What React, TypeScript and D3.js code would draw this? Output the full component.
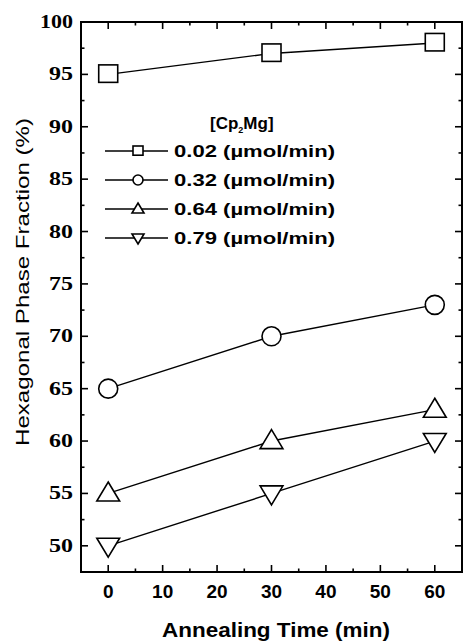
import React from 'react';
import * as d3 from 'd3';

// annealing time (min)
const times = [0, 30, 60];
// hexagonal phase fraction (%) per Cp2Mg flow
const s002 = [95, 97, 98];
const s032 = [65, 70, 73];
const s064 = [55, 60, 63];
const s079 = [50, 55, 60];
const seriesLabels = ['0.02', '0.32', '0.64', '0.79'];
const markers = ['square', 'circle', 'up', 'down'];
const xTicks = [0, 10, 20, 30, 40, 50, 60];
const yTicks = [50, 55, 60, 65, 70, 75, 80, 85, 90, 95, 100];

const W = 464;
const H = 643;
const left = 81, right = 462, top = 22, bottom = 572;
const sans = 'Liberation Sans, Arial, sans-serif';
const serif = 'Liberation Serif, Times New Roman, serif';

function Marker({ kind, x, y, s }: { kind: string; x: number; y: number; s: number }) {
  const sw = 1.6;
  if (kind === 'square')
    return <rect x={x - s / 2} y={y - s / 2} width={s} height={s * 0.92} fill="white" stroke="black" strokeWidth={sw} />;
  if (kind === 'circle')
    return <circle cx={x} cy={y} r={s / 2} fill="white" stroke="black" strokeWidth={sw} />;
  const h = s * 1.0;
  const w = s * 1.2;
  if (kind === 'up')
    return <path d={`M${x},${y - h * 0.6}L${x + w / 2},${y + h * 0.4}L${x - w / 2},${y + h * 0.4}Z`} fill="white" stroke="black" strokeWidth={sw} />;
  return <path d={`M${x},${y + h * 0.6}L${x + w / 2},${y - h * 0.4}L${x - w / 2},${y - h * 0.4}Z`} fill="white" stroke="black" strokeWidth={sw} />;
}

export default function App() {
  const x = d3.scaleLinear().domain([-5, 65]).range([left, right]);
  const y = d3.scaleLinear().domain([47.5, 100]).range([bottom, top]);
  const series = [s002, s032, s064, s079];
  const line = d3.line<number>().x((_, i) => x(times[i])).y(d => y(d));
  const xMinor = d3.range(5, 65, 10);
  const yMinor = d3.range(47.5, 100, 5);
  const legY = [151, 180, 209, 238];

  return (
    <svg width={W} height={H} style={{ position: 'absolute', left: 0, top: 0, background: 'white' }}>
      {/* series */}
      {series.map((vals, k) => (
        <g key={k}>
          <path d={line(vals) || ''} fill="none" stroke="black" strokeWidth={1.4} />
          {vals.map((v, i) => (
            <Marker key={i} kind={markers[k]} x={x(times[i])} y={y(v)} s={19} />
          ))}
        </g>
      ))}

      {/* frame */}
      <rect x={left} y={top} width={right - left} height={bottom - top} fill="none" stroke="black" strokeWidth={2} />

      {/* x ticks bottom & top */}
      {xTicks.map(t => (
        <g key={'x' + t}>
          <line x1={x(t)} x2={x(t)} y1={bottom} y2={bottom - 7} stroke="black" strokeWidth={1.6} />
          <line x1={x(t)} x2={x(t)} y1={top} y2={top + 7} stroke="black" strokeWidth={1.6} />
          <text x={x(t)} y={598} textAnchor="middle" fontFamily={sans} fontWeight="bold" fontSize={19}>{t}</text>
        </g>
      ))}
      {xMinor.map(t => (
        <g key={'xm' + t}>
          <line x1={x(t)} x2={x(t)} y1={bottom} y2={bottom - 3.5} stroke="black" strokeWidth={1.6} />
          <line x1={x(t)} x2={x(t)} y1={top} y2={top + 3.5} stroke="black" strokeWidth={1.6} />
        </g>
      ))}

      {/* y ticks left & right */}
      {yTicks.map(t => (
        <g key={'y' + t}>
          <line x1={left} x2={left + 7} y1={y(t)} y2={y(t)} stroke="black" strokeWidth={1.6} />
          <line x1={right} x2={right - 7} y1={y(t)} y2={y(t)} stroke="black" strokeWidth={1.6} />
          <text x={73} y={y(t) + 6} textAnchor="end" fontFamily={serif} fontWeight="bold" fontSize={18}
            textLength={t >= 100 ? 33 : 24} lengthAdjust="spacingAndGlyphs">{t}</text>
        </g>
      ))}
      {yMinor.map(t => (
        <g key={'ym' + t}>
          <line x1={left} x2={left + 3.5} y1={y(t)} y2={y(t)} stroke="black" strokeWidth={1.6} />
          <line x1={right} x2={right - 3.5} y1={y(t)} y2={y(t)} stroke="black" strokeWidth={1.6} />
        </g>
      ))}

      {/* axis titles */}
      <text transform="translate(29,282) rotate(-90)" textAnchor="middle" fontFamily={sans} fontSize={18}
        textLength={328} lengthAdjust="spacingAndGlyphs">Hexagonal Phase Fraction (%)</text>
      <text x={276} y={637} textAnchor="middle" fontFamily={sans} fontWeight="bold" fontSize={20}
        textLength={228} lengthAdjust="spacingAndGlyphs">Annealing Time (min)</text>

      {/* legend */}
      <text x={210} y={129} fontFamily={sans} fontWeight="bold" fontSize={17}>
        [Cp<tspan fontSize={9} dy={4}>2</tspan><tspan dy={-4}>Mg]</tspan>
      </text>
      {seriesLabels.map((lab, k) => (
        <g key={'l' + k}>
          <line x1={105} x2={168} y1={legY[k]} y2={legY[k]} stroke="black" strokeWidth={1.4} />
          <Marker kind={markers[k]} x={138} y={legY[k]} s={10} />
          <text x={174} y={legY[k] + 6} fontFamily={sans} fontWeight="bold" fontSize={17}
            textLength={161} lengthAdjust="spacingAndGlyphs">{lab} (µmol/min)</text>
        </g>
      ))}
    </svg>
  );
}
